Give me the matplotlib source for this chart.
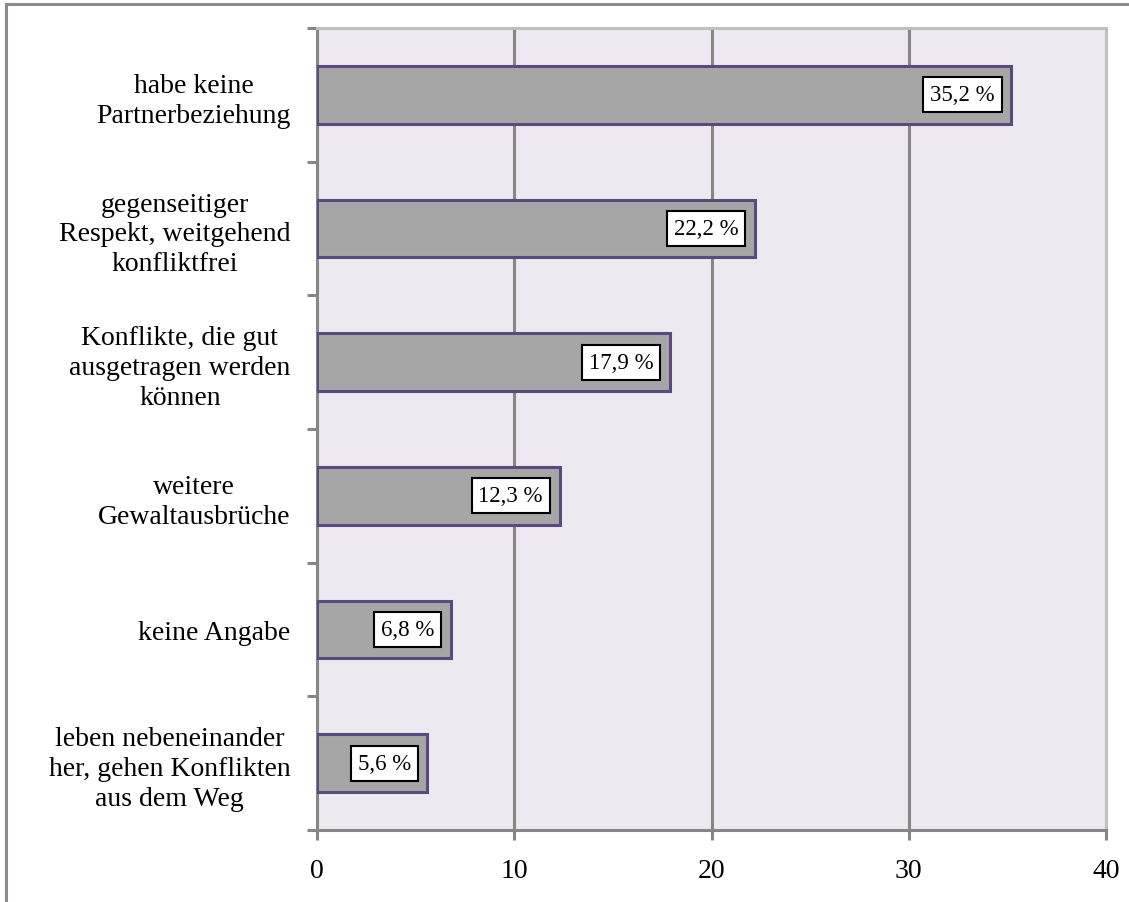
import matplotlib.pyplot as plt
import numpy as np
from matplotlib.lines import Line2D

# Daten (von oben nach unten)
categories = [
    'habe keine\nPartnerbeziehung',
    'gegenseitiger\nRespekt, weitgehend\nkonfliktfrei',
    'Konflikte, die gut\nausgetragen werden\nkönnen',
    'weitere\nGewaltausbrüche',
    'keine Angabe',
    'leben nebeneinander\nher, gehen Konflikten\naus dem Weg',
]
values = [35.2, 22.2, 17.9, 12.3, 6.8, 5.6]
value_labels = ['35,2 %', '22,2 %', '17,9 %', '12,3 %', '6,8 %', '5,6 %']
x_ticks = [0, 10, 20, 30, 40]

plt.rcParams['font.family'] = ['Liberation Serif', 'DejaVu Serif']

fig = plt.figure(figsize=(11.29, 9.03), dpi=100)
W, H = 1129, 903
ax = fig.add_axes([317 / W, 1 - 831 / H, (1106 - 317) / W, (831 - 29) / H])
ax.set_facecolor('#ECEAF0')

# Rahmen um die Grafik (nur oben und links sichtbar)
fig.add_artist(Line2D([6 / W, 1], [1 - 5 / H, 1 - 5 / H], transform=fig.transFigure,
                      color='#8C8C8C', linewidth=2.2))
fig.add_artist(Line2D([6 / W, 6 / W], [0, 1 - 5 / H], transform=fig.transFigure,
                      color='#8C8C8C', linewidth=2.2))

n = len(categories)
y_pos = np.arange(n)[::-1]

ax.barh(y_pos, values, height=0.43, color='#A6A6A6', edgecolor='#5B4A80',
        linewidth=2.2, zorder=3)

# Wertelabels in weißen Kästchen
for y, v, lab in zip(y_pos, values, value_labels):
    ax.annotate(lab, xy=(v, y), xytext=(-12, 0), textcoords='offset points',
                ha='right', va='center', fontsize=16.5, zorder=5,
                bbox=dict(boxstyle='square,pad=0.3', facecolor='white',
                          edgecolor='black', linewidth=1.5))

ax.set_xlim(0, 40)
ax.set_ylim(-0.5, n - 0.5)

ax.set_xticks(x_ticks)
ax.set_xticklabels([str(t) for t in x_ticks], fontsize=20)
ax.tick_params(axis='x', length=7, width=2.2, color='#868686', pad=13)

ax.set_yticks(y_pos)
ax.set_yticklabels(categories, fontsize=20)
for t in ax.get_yticklabels():
    t.set_multialignment('center')
    t.set_linespacing(1.25)
ax.set_yticks(np.arange(-0.5, n, 1.0), minor=True)
ax.tick_params(axis='y', which='major', length=0, pad=19)
ax.tick_params(axis='y', which='minor', length=7, width=2.2, color='#868686')

ax.grid(True, axis='x', color='#868686', linewidth=2.2, zorder=1)
ax.set_axisbelow(True)

for side in ['left', 'bottom']:
    ax.spines[side].set_color('#868686')
    ax.spines[side].set_linewidth(2.2)
for side in ['top', 'right']:
    ax.spines[side].set_color('#C0C0C0')
    ax.spines[side].set_linewidth(2.2)

fig.savefig('out.png', dpi=100)
